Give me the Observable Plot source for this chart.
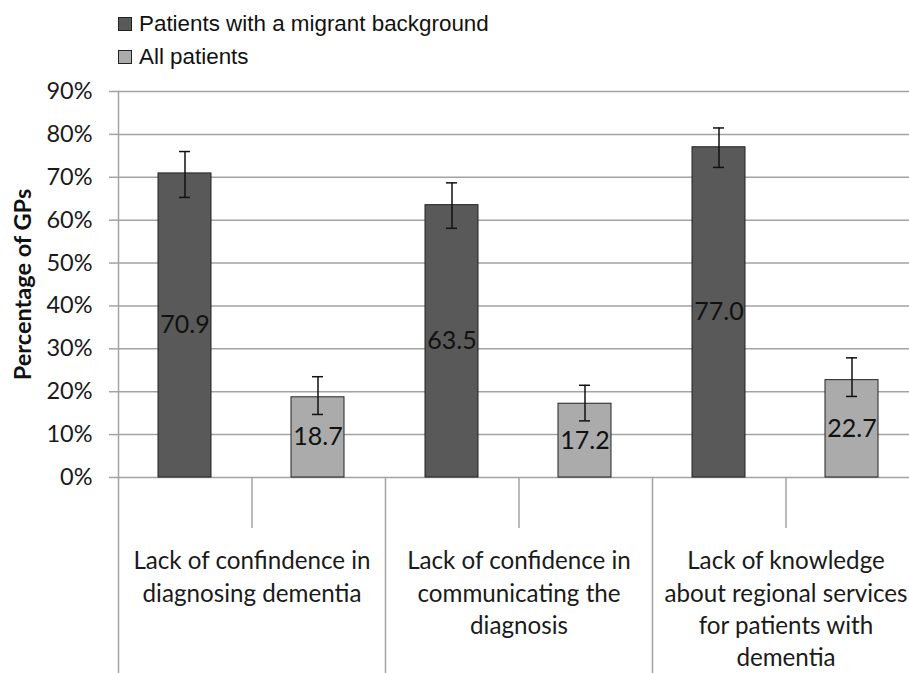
<!DOCTYPE html>
<html>
<head>
<meta charset="utf-8">
<script src="https://cdn.jsdelivr.net/npm/d3@7"></script>
<script src="https://cdn.jsdelivr.net/npm/@observablehq/plot@0.6"></script>
<style>
  html, body { margin: 0; padding: 0; background: #fff; }
  #wrap { width: 909px; height: 673px; overflow: hidden; position: relative; }
  #legend { position: relative; height: 72px; font-family: "Liberation Sans", Arial, sans-serif; font-size: 22.4px; color: #111; }
  .item { position: absolute; left: 118px; display: flex; align-items: center; }
  .sw { width: 12px; height: 12px; border: 1px solid #222; margin-right: 7px; }
</style>
</head>
<body>
<div id="wrap">
  <div id="legend"></div>
  <div id="chart"></div>
</div>
<script>
const categories = [
  "Lack of confindence in\ndiagnosing dementia",
  "Lack of confidence in\ncommunicating the\ndiagnosis",
  "Lack of knowledge\nabout regional services\nfor patients with\ndementia"
];
const series = ["Patients with a migrant background", "All patients"];
const migrantValues = [70.9, 63.5, 77.0];
const migrantLow = [65.3, 58.1, 72.3];
const migrantHigh = [76.0, 68.7, 81.5];
const allValues = [18.7, 17.2, 22.7];
const allLow = [14.7, 13.2, 18.9];
const allHigh = [23.5, 21.5, 27.9];
const yTicks = [0, 10, 20, 30, 40, 50, 60, 70, 80, 90];
const colors = ["#595959", "#ababab"];

const data = [];
categories.forEach((c, i) => {
  data.push({cat: c, series: series[0], value: migrantValues[i], lo: migrantLow[i], hi: migrantHigh[i]});
  data.push({cat: c, series: series[1], value: allValues[i], lo: allLow[i], hi: allHigh[i]});
});

// legend
const legend = document.getElementById("legend");
series.forEach((s, i) => {
  const it = document.createElement("div");
  it.className = "item";
  it.style.top = (11 + i * 33) + "px";
  const sw = document.createElement("span");
  sw.className = "sw";
  sw.style.background = colors[i];
  const t = document.createElement("span");
  t.textContent = s;
  it.appendChild(sw); it.appendChild(t);
  legend.appendChild(it);
});

const grid = "#a3a3a3";
const font = "Lato, 'Open Sans', sans-serif";
const chart = Plot.plot({
  width: 909,
  height: 601,
  marginTop: 19,
  marginBottom: 196,
  marginLeft: 117,
  marginRight: -10,
  style: {fontFamily: font, color: "#1a1a1a", background: "white"},
  fx: {domain: categories, padding: 0},
  x: {domain: series, paddingInner: 0.6, paddingOuter: 0.3, axis: null},
  y: {domain: [0, 90]},
  color: {domain: series, range: colors},
  marks: [
    Plot.gridY(yTicks, {stroke: grid, strokeOpacity: 1, strokeWidth: 1.5}),
    Plot.frame({anchor: "left", facet: "super", stroke: grid, strokeWidth: 1.5}),
    Plot.frame({anchor: "left", insetTop: 386, insetBottom: -196, stroke: grid, strokeWidth: 1.5}),
    Plot.axisY(yTicks, {tickSize: 9, tickPadding: 17, tickFormat: d => d + "%", fontSize: 23.5, stroke: grid, strokeWidth: 1.5, fill: "#1a1a1a", label: null}),
    Plot.axisY([], {label: "Percentage of GPs", labelAnchor: "center", labelArrow: "none", labelOffset: 104, fontSize: 23.5, fontWeight: "bold", fill: "#111"}),
    Plot.axisFx({anchor: "bottom", tickSize: 51, tickPadding: 18, fontSize: 24.2, lineHeight: 1.33, stroke: grid, strokeWidth: 1.5, fill: "#1a1a1a", label: null, lineAnchor: "top"}),
    Plot.barY(data, {fx: "cat", x: "series", y: "value", fill: "series", stroke: "#222", strokeWidth: 1}),
    Plot.ruleX(data, {fx: "cat", x: "series", y1: "lo", y2: "hi", stroke: "#111", strokeWidth: 1.5}),
    Plot.tickY(data, {fx: "cat", x: "series", y: "hi", insetLeft: 21, insetRight: 21, stroke: "#111", strokeWidth: 1.5}),
    Plot.tickY(data, {fx: "cat", x: "series", y: "lo", insetLeft: 21, insetRight: 21, stroke: "#111", strokeWidth: 1.5}),
    Plot.text(data, {fx: "cat", x: "series", y: d => d.value / 2, text: d => d.value.toFixed(1), fontSize: 25, fill: "#111"})
  ]
});
document.getElementById("chart").appendChild(chart);
</script>
</body>
</html>
